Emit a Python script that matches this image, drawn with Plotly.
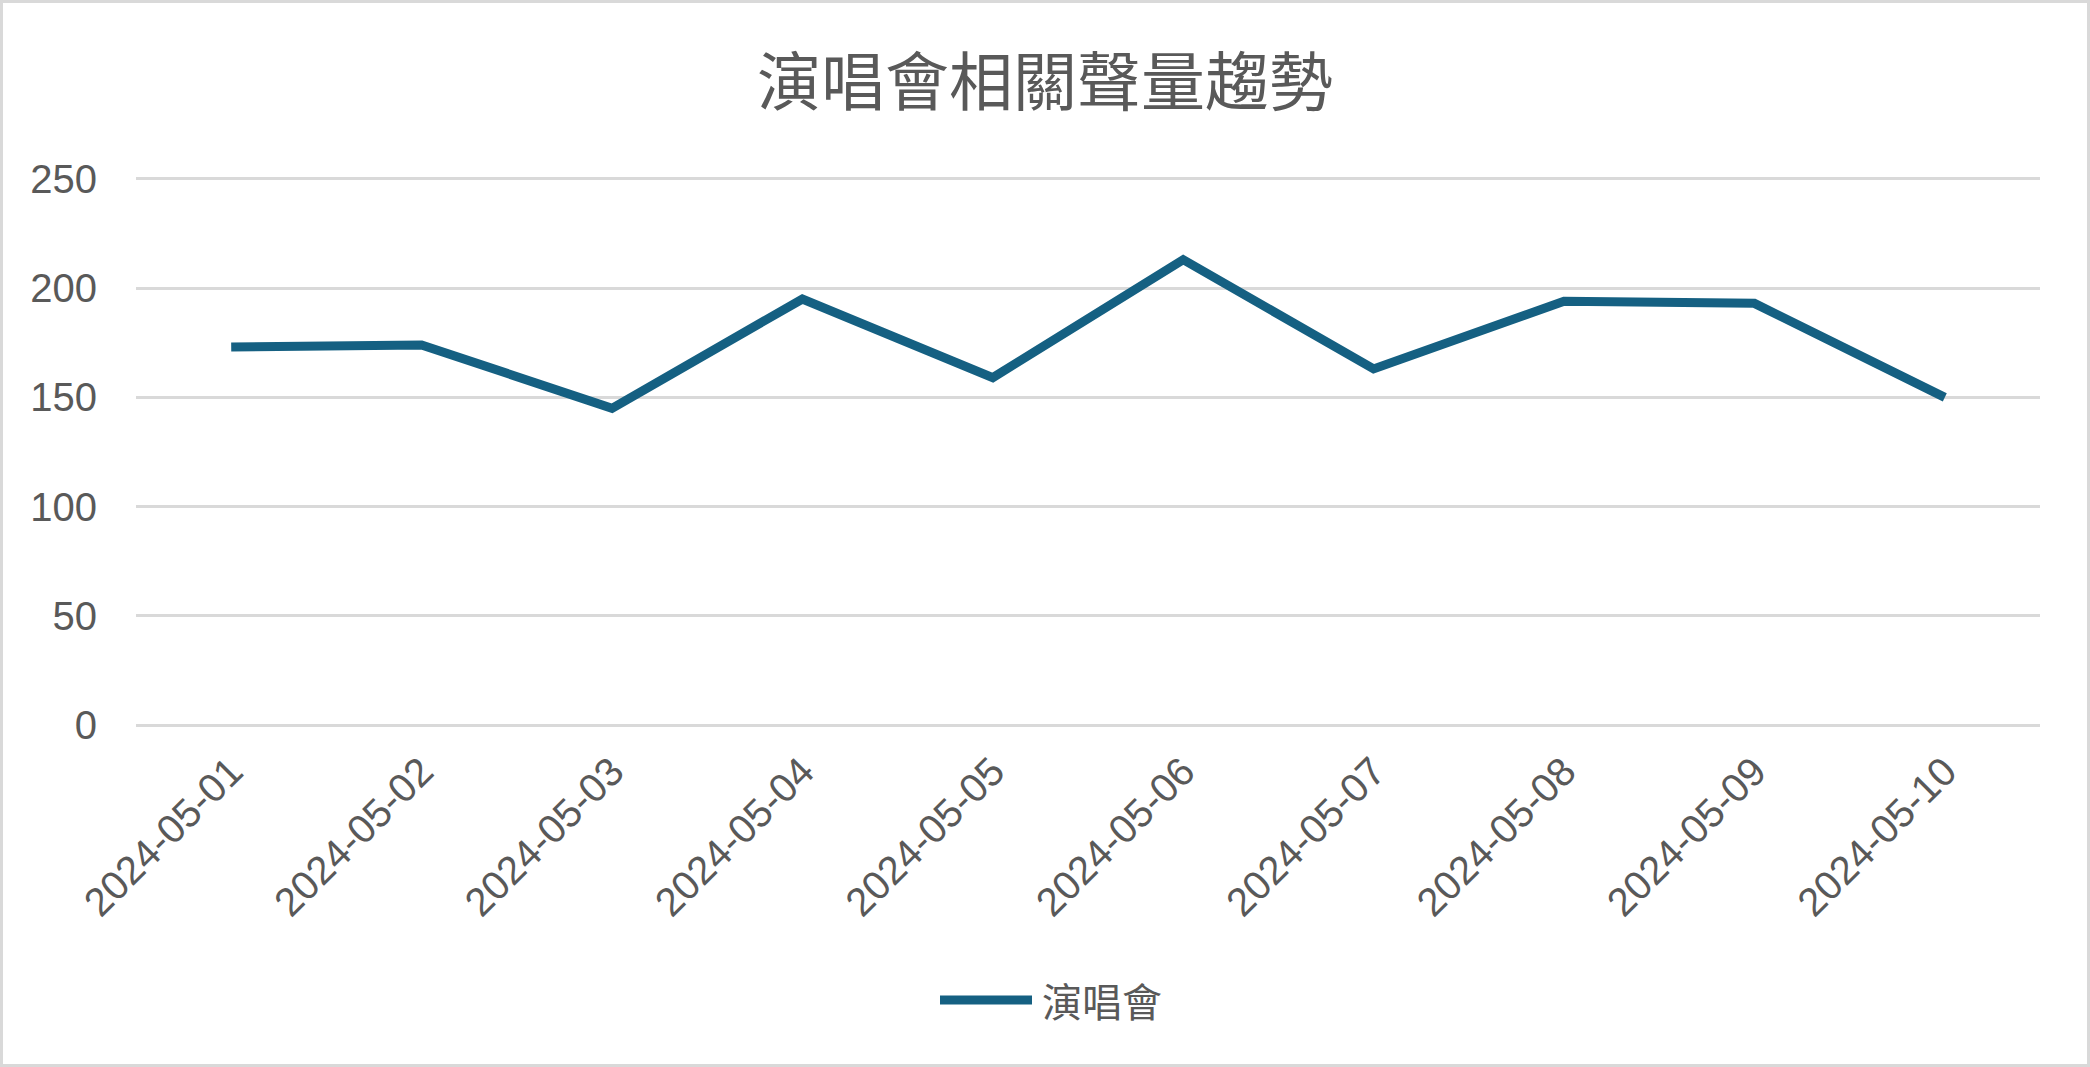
import plotly.graph_objects as go

# data
dates = ["2024-05-01", "2024-05-02", "2024-05-03", "2024-05-04", "2024-05-05",
         "2024-05-06", "2024-05-07", "2024-05-08", "2024-05-09", "2024-05-10"]
concert_volume = [173, 174, 145, 195, 159, 213, 163, 194, 193, 150]
series_name = "演唱會"
chart_title = "演唱會相關聲量趨勢"
y_ticks = [0, 50, 100, 150, 200, 250]

W, H = 2090, 1067
# plot area is padded by ~1.5px top and bottom so the 0 and 250 gridlines get drawn
ML, MR, MT, MB = 136, 50, 177, 340
plot_w = W - ML - MR
plot_h = H - MT - MB
Y_PAD = 0.8

LINE_COLOR = "#156082"
TEXT_COLOR = "#595959"
GRID_COLOR = "#d9d9d9"
LATIN = "Liberation Sans, Arial, sans-serif"
CJK = "Noto Sans CJK TC, Noto Sans CJK SC, sans-serif"


def px_x(px):
    # pixel x on the page -> paper x
    return (px - ML) / plot_w


def px_y(py):
    # pixel y on the page -> paper y
    return (H - MB - py) / plot_h


fig = go.Figure(go.Scatter(
    x=dates,
    y=concert_volume,
    mode="lines",
    name=series_name,
    line=dict(color=LINE_COLOR, width=9),
    showlegend=False,
))

fig.update_layout(
    width=W, height=H,
    margin=dict(l=ML, r=MR, t=MT, b=MB, autoexpand=False),
    paper_bgcolor="white",
    plot_bgcolor="white",
    title=dict(
        text=chart_title,
        x=0.5, xanchor="center",
        y=1 - 83 / H, yanchor="middle", yref="container",
        font=dict(family=CJK, size=64, color=TEXT_COLOR),
    ),
    xaxis=dict(
        type="category",
        range=[-0.5, len(dates) - 0.5],
        showgrid=False, showline=False, zeroline=False,
        tickangle=-45,
        ticks="",
        ticklabelstandoff=12,
        tickfont=dict(family=LATIN, size=40, color=TEXT_COLOR),
    ),
    yaxis=dict(
        range=[-Y_PAD, 250 + Y_PAD],
        tickvals=y_ticks,
        showgrid=True, gridcolor=GRID_COLOR, gridwidth=2.5,
        showline=False,
        zeroline=True, zerolinecolor=GRID_COLOR, zerolinewidth=2.5,
        ticks="",
        ticklabelstandoff=38,
        tickfont=dict(family=LATIN, size=40, color=TEXT_COLOR),
    ),
)

# legend drawn by hand so the sample line is as long as in the original
fig.add_shape(type="line", xref="paper", yref="paper",
              x0=px_x(940), x1=px_x(1032), y0=px_y(1000), y1=px_y(1000),
              line=dict(color=LINE_COLOR, width=9))
fig.add_annotation(text=series_name, xref="paper", yref="paper",
                   x=px_x(1040), y=px_y(1000), xanchor="left", yanchor="middle",
                   showarrow=False,
                   font=dict(family=CJK, size=40, color=TEXT_COLOR))

# outer chart border
fig.add_shape(type="rect", xref="paper", yref="paper",
              x0=px_x(1.5), x1=px_x(W - 1.5), y0=px_y(H - 1.5), y1=px_y(1.5),
              line=dict(color=GRID_COLOR, width=3), layer="below")

# drop the page's default body margin so the chart sits at the top-left corner
fig.write_html("out.html", config={"displayModeBar": False},
               post_script="document.body.style.margin = '0';")
